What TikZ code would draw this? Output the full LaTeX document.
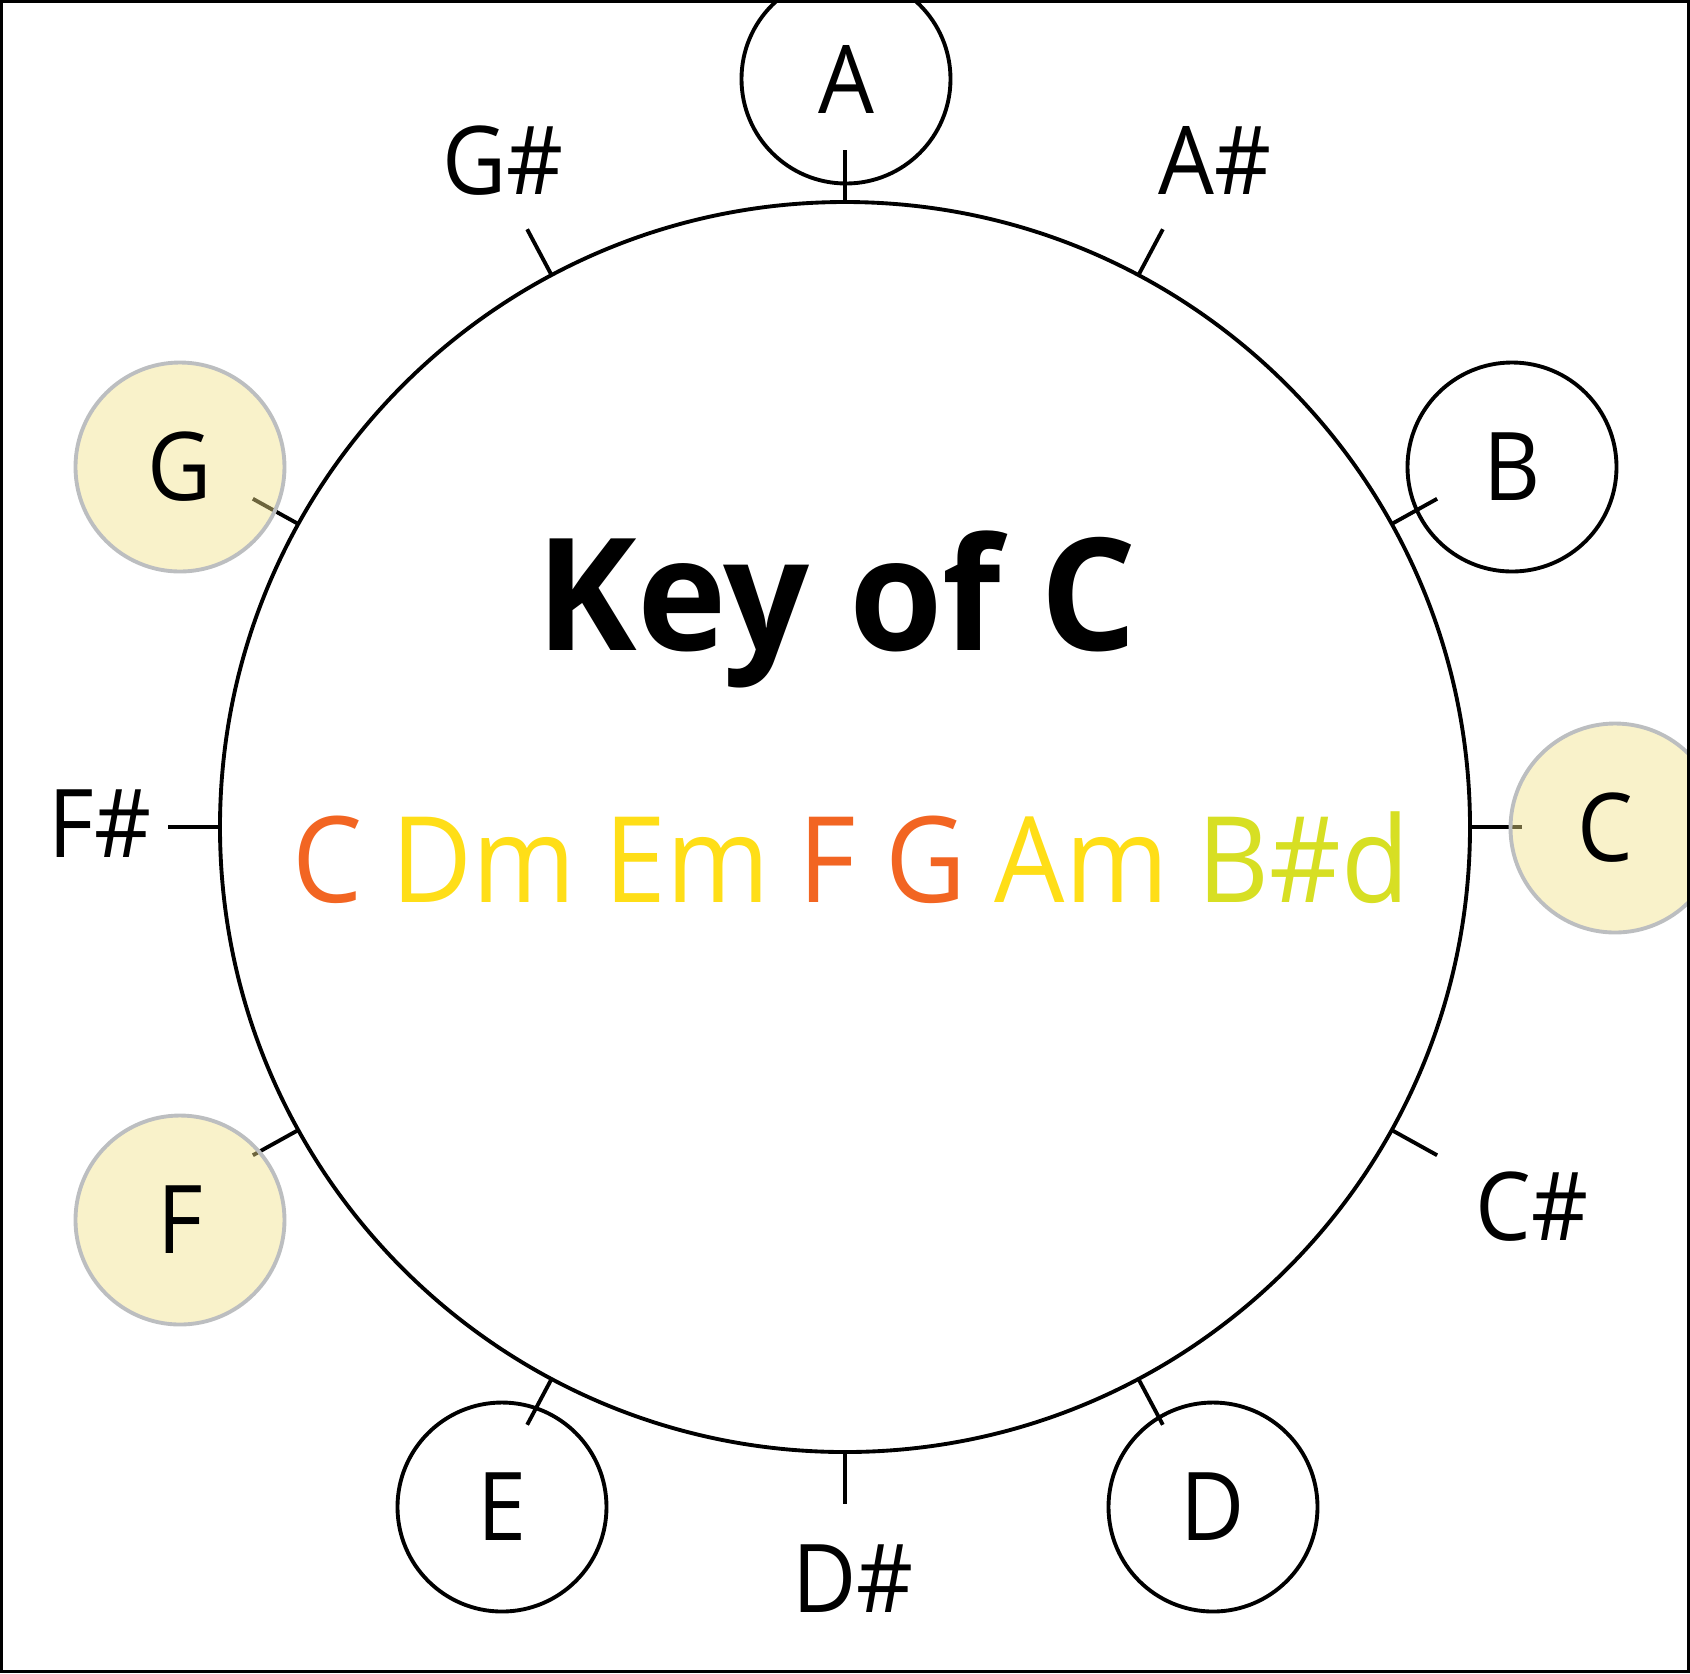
\documentclass[tikz,border=0pt]{standalone}
\usepackage{fontspec}
\setmainfont{Open Sans}[FakeStretch=0.93]
\usepackage{xcolor}
\usepackage{tikz}
\usetikzlibrary{positioning}

\definecolor{laranja}{RGB}{242,101,34}
\definecolor{amarelo}{RGB}{255,222,23}
\definecolor{lima}{RGB}{215,223,35}
\definecolor{creme}{RGB}{242,226,137}
\definecolor{cinza}{RGB}{188,190,192}

\tikzset{
  nota/.style={circle, draw, line width=1.1pt, minimum size=2.09cm,
    inner sep=0pt, font=\fontsize{27}{32}\selectfont},
  notaescala/.style={nota, draw=cinza, fill=creme, fill opacity=0.45,
    text opacity=1},
  rotulo/.style={font=\fontsize{27}{32}\selectfont}
}

\begin{document}
\begin{tikzpicture}[line width=1.1pt]
  % Área da figura
  \useasboundingbox (-8.45,-8.46) rectangle (8.45,8.27);
  \begin{scope}
    \clip (-8.45,-8.46) rectangle (8.45,8.27);

    % Círculo principal
    \draw (0,0) circle (6.25cm);

    % Marcas dos doze semitons
    \foreach \a in {0,29,62,90,118,151,180,209,242,270,298,331} {
      \draw (\a:6.25cm) -- (\a:6.77cm);
    }

    % Notas fora da escala (apenas contorno)
    \node[nota] (notaA) at (0.01,7.48) {A};
    \node[nota] (notaB) at (6.67,3.60) {B};
    \node[nota] (notaD) at (3.68,-6.80) {D};
    \node[nota] (notaE) at (-3.43,-6.80) {E};

    % Notas destacadas
    \node[notaescala] (notaC) at (7.70,-0.01) {\hspace*{-0.2cm}C};
    \node[notaescala] (notaF) at (-6.65,-3.93) {F};
    \node[notaescala] (notaG) at (-6.65,3.60) {G};

    % Sustenidos
    \node[rotulo] (sustGs) at (-3.42,6.66) {G\#};
    \node[rotulo] (sustAs) at (3.70,6.67) {A\#};
    \node[rotulo] (sustFs) at (-7.45,0.03) {F\#};
    \node[rotulo] (sustCs) at (6.87,-3.80) {C\#};
    \node[rotulo] (sustDs) at (0.08,-7.52) {D\#};

    % Título e acordes
    \node[anchor=base, font=\bfseries\fontsize{44.5}{50}\selectfont,
      xscale=1.04, transform shape]
      (titulo) at (-0.08,1.77) {Key of C};
    \node[anchor=base, font=\fontsize{34}{40}\selectfont]
      (acordes) at (0.06,-0.75) {\textcolor{laranja}{C}
      \textcolor{amarelo}{Dm} \textcolor{amarelo}{Em}
      \textcolor{laranja}{F} \textcolor{laranja}{G}
      \textcolor{amarelo}{Am} \textcolor{lima}{B\#d}};
  \end{scope}

  % Moldura
  \draw[line width=0.027cm] (-8.4365,-8.4465) rectangle (8.4365,8.2565);
\end{tikzpicture}
\end{document}
